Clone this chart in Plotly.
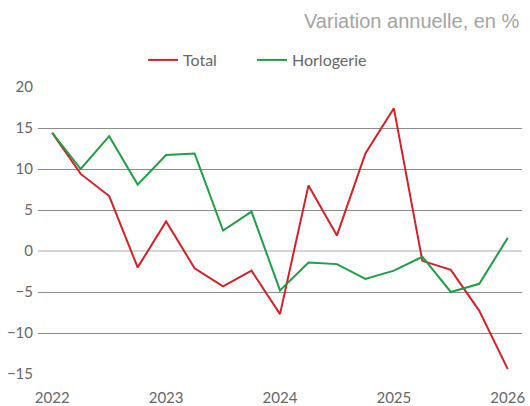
import plotly.graph_objects as go

quarters = list(range(17))  # 2022Q1 .. 2026Q1
tick_vals = [0, 4, 8, 12, 16]
tick_text = ["2022", "2023", "2024", "2025", "2026"]

total = [14.4, 9.4, 6.7, -2.0, 3.6, -2.1, -4.3, -2.4, -7.7, 8.0, 1.9, 11.9, 17.4, -1.2, -2.3, -7.3, -14.4]
horlogerie = [14.4, 10.0, 14.0, 8.1, 11.7, 11.9, 2.5, 4.8, -4.8, -1.4, -1.6, -3.4, -2.4, -0.7, -5.0, -4.0, 1.6]

RED = "#d42027"
GREEN = "#1f9e45"
FONT = "Lato"

fig = go.Figure()
fig.add_trace(go.Scatter(x=quarters, y=total, mode="lines", name="Total",
                         line=dict(color=RED, width=2), legend="legend"))
fig.add_trace(go.Scatter(x=quarters, y=horlogerie, mode="lines", name="Horlogerie",
                         line=dict(color=GREEN, width=2), legend="legend2"))

legend_common = dict(orientation="h", xref="container", xanchor="left",
                     y=(374 - 60) / 287, yanchor="middle",
                     font=dict(size=16, color="#666666"), itemwidth=30,
                     bgcolor="rgba(0,0,0,0)")

fig.update_layout(
    width=530, height=406,
    margin=dict(l=38, r=8, t=87, b=32, autoexpand=False),
    paper_bgcolor="white", plot_bgcolor="white",
    font=dict(family=FONT, size=15, color="#666666"),
    showlegend=True,
    legend=dict(x=143 / 530, **legend_common),
    legend2=dict(x=252 / 530, **legend_common),
    annotations=[dict(text="Variation annuelle, en %", xref="paper", yref="paper",
                      x=1.0, xanchor="right", y=(374 - 21) / 287, yanchor="middle",
                      showarrow=False,
                      font=dict(family="Liberation Sans", size=20, color="#a3a3a3"))],
)

fig.update_xaxes(range=[-0.5, 16.5], tickvals=tick_vals, ticktext=tick_text,
                 showgrid=False, zeroline=False, showline=False, automargin=False,
                 ticks="outside", ticklen=10, tickcolor="rgba(0,0,0,0)",
                 tickfont=dict(size=15, color="#666666"))
fig.update_yaxes(range=[-15, 20], tickvals=[-15, -10, -5, 0, 5, 10, 15, 20],
                 showgrid=True, gridcolor="#8c8c8c", gridwidth=1, automargin=False,
                 zeroline=True, zerolinecolor="#d4d4d4", zerolinewidth=1.5,
                 showline=False, ticks="", ticklabelstandoff=4,
                 tickfont=dict(size=15, color="#666666"))

fig.write_html("out.html", config={"displayModeBar": False},
               post_script="document.body.style.margin='0px';document.body.style.overflow='hidden';")
